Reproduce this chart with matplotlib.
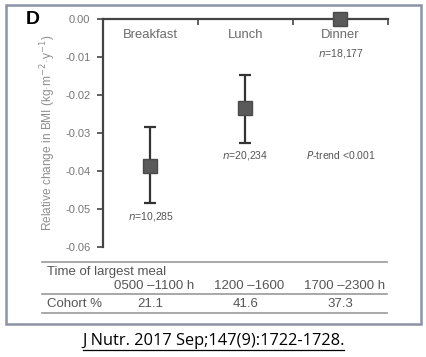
import matplotlib
matplotlib.use('Agg')
import matplotlib.pyplot as plt
from matplotlib.patches import Rectangle
from matplotlib.lines import Line2D
from matplotlib.transforms import blended_transform_factory

plt.rcParams['font.family'] = ['Liberation Sans', 'DejaVu Sans']

meals = ['Breakfast', 'Lunch', 'Dinner']
means = [-0.0386, -0.0235, 0.0]
upper = [-0.0285, -0.0147, 0.0]
lower = [-0.0485, -0.0326, 0.0]
counts = ['10,285', '20,234', '18,177']
time_ranges = ['0500 \u20131100 h', '1200 \u20131600', '1700 \u20132300 h']
cohort_pct = ['21.1', '41.6', '37.3']

grey = '#6a6a6a'
W, H = 427, 357

fig = plt.figure(figsize=(W / 100, H / 100), dpi=100)
ax = fig.add_axes([103 / W, 1 - 247 / H, (388 - 103) / W, (247 - 19) / H])

xs = [i + 0.5 for i in range(len(meals))]
err_lo = [m - l for m, l in zip(means, lower)]
err_hi = [u - m for m, u in zip(means, upper)]
ax.errorbar(xs[:2], means[:2], yerr=[err_lo[:2], err_hi[:2]], fmt='none',
            ecolor='#333333', elinewidth=1.6, capsize=4.5, capthick=1.6, zorder=3)
ax.plot(xs, means, ls='none', marker='s', ms=9.5, color='#5a5a5a',
        mec='#4a4a4a', clip_on=False, zorder=4)

ax.set_xlim(0, 3)
ax.set_ylim(-0.06, 0.0)
ax.set_yticks([0, -0.01, -0.02, -0.03, -0.04, -0.05, -0.06])
ax.set_yticklabels(['0.00', '-0.01', '-0.02', '-0.03', '-0.04', '-0.05', '-0.06'])
ax.set_xticks([0, 1, 2, 3])
ax.xaxis.tick_top()
ax.tick_params(axis='x', direction='in', length=4, width=1.2, labeltop=False,
               color='#444444')
ax.tick_params(axis='y', direction='out', length=4, width=1.2, pad=5,
               labelsize=8, labelcolor='#777777', color='#444444')
for s in ['right', 'bottom']:
    ax.spines[s].set_visible(False)
for s in ['left', 'top']:
    ax.spines[s].set_linewidth(1.6)
    ax.spines[s].set_color('#444444')

ax.set_ylabel('Relative change in BMI (kg\u00b7m$^{-2}$\u00b7y$^{-1}$)',
              fontsize=8.6, color='#8f8f8f', labelpad=5)

for x, name in zip(xs, meals):
    ax.text(x, -0.0043, name, ha='center', va='center', fontsize=9.4, color=grey)
n_y = [-0.0521, -0.0358, -0.009]
for x, c, y in zip(xs, counts, n_y):
    ax.text(x, y, '$n$=' + c, ha='center', va='center', fontsize=7.5, color='#555555')
ax.text(xs[2], -0.0358, '$P$-trend <0.001', ha='center', va='center',
        fontsize=7.5, color='#555555')

fig.text(33 / W, 1 - 20 / H, 'D', fontsize=14, fontweight='bold',
         ha='center', va='center', color='black')

# table below the chart
tr = blended_transform_factory(ax.transData, fig.transFigure)
for yy in [262, 294, 313]:
    fig.add_artist(Line2D([42 / W, 387 / W], [1 - yy / H, 1 - yy / H],
                          color='#999999', lw=1.2))
fig.text(47 / W, 1 - 272 / H, 'Time of largest meal', fontsize=9.5,
         color='#555555', ha='left', va='center')
fig.text(47 / W, 1 - 304 / H, 'Cohort %', fontsize=9.5,
         color='#555555', ha='left', va='center')
for x, t, p in zip(xs, time_ranges, cohort_pct):
    ax.text(x + 0.04, 1 - 286 / H, t, transform=tr, fontsize=9.5,
            color='#555555', ha='center', va='center')
    ax.text(x, 1 - 304 / H, p, transform=tr, fontsize=9.5,
            color='#555555', ha='center', va='center')

fig.add_artist(Rectangle((6 / W, 1 - 324 / H), 415 / W, 319 / H,
                         transform=fig.transFigure, fill=False,
                         edgecolor='#8c93a6', lw=1.8))

fig.text(0.5, 1 - 341 / H, 'J Nutr. 2017 Sep;147(9):1722-1728.',
         fontsize=11.8, color='black', ha='center', va='center',
         family='Open Sans')
# underline
fig.add_artist(Line2D([83 / W, 344 / W], [1 - 350 / H, 1 - 350 / H],
                      color='black', lw=0.9))

fig.savefig('out.png', dpi=100)
